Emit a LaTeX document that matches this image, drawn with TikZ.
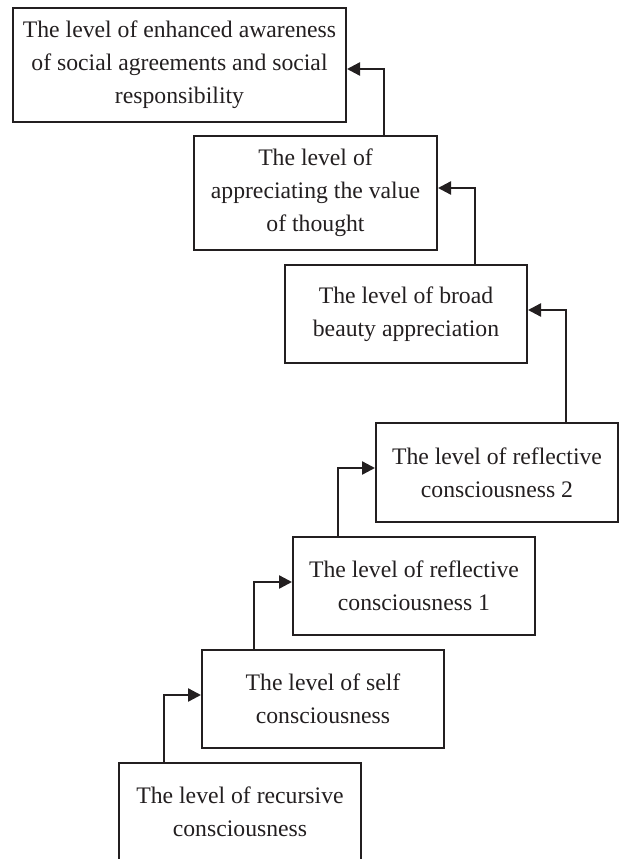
\documentclass[tikz,border=0pt]{standalone}
\usepackage{fontspec}
\setmainfont{Liberation Serif}
\usetikzlibrary{arrows.meta}
\definecolor{ink}{HTML}{231F20}
\begin{document}
\begin{tikzpicture}[x=1pt,y=-1pt,
  level/.style={draw=ink, text=ink, line width=2pt, inner sep=0pt, align=center,
    minimum width=242pt, minimum height=98pt,
    font=\fontsize{23.7}{33}\selectfont},
  uparrow/.style={draw=ink, line width=2.4pt,
    -{Triangle[length=13pt,width=13pt]}}]
\useasboundingbox (0,0) rectangle (619,859);
% the seven stacked levels, bottom to top
\node[level, minimum width=333pt, minimum height=114pt] (b1) at (179.5,65)
  {The level of enhanced awareness\\of social agreements and social\\responsibility};
\node[level, minimum width=243pt, minimum height=114pt] (b2) at (315.5,193)
  {The level of\\appreciating the value\\of thought};
\node[level] (b3) at (406,314) {The level of broad\\beauty appreciation};
\node[level, minimum height=99pt] (b4) at (497,472.5) {The level of reflective\\consciousness 2};
\node[level] (b5) at (414,586) {The level of reflective\\consciousness 1};
\node[level] (b6) at (323,699) {The level of self\\consciousness};
\node[level] (b7) at (240,812) {The level of recursive\\consciousness};
% stepped connectors climbing from each level to the next
\draw[uparrow] (b2.north -| 384,0) |- ([yshift=-4pt]b1.east);
\draw[uparrow] (b3.north -| 475,0) |- ([yshift=5pt]b2.east);
\draw[uparrow] (b4.north -| 566,0) |- ([yshift=4pt]b3.east);
\draw[uparrow] (b5.north -| 338,0) |- ([yshift=4.5pt]b4.west);
\draw[uparrow] (b6.north -| 254,0) |- ([yshift=4pt]b5.west);
\draw[uparrow] (b7.north -| 164,0) |- ([yshift=4pt]b6.west);
\end{tikzpicture}
\end{document}
